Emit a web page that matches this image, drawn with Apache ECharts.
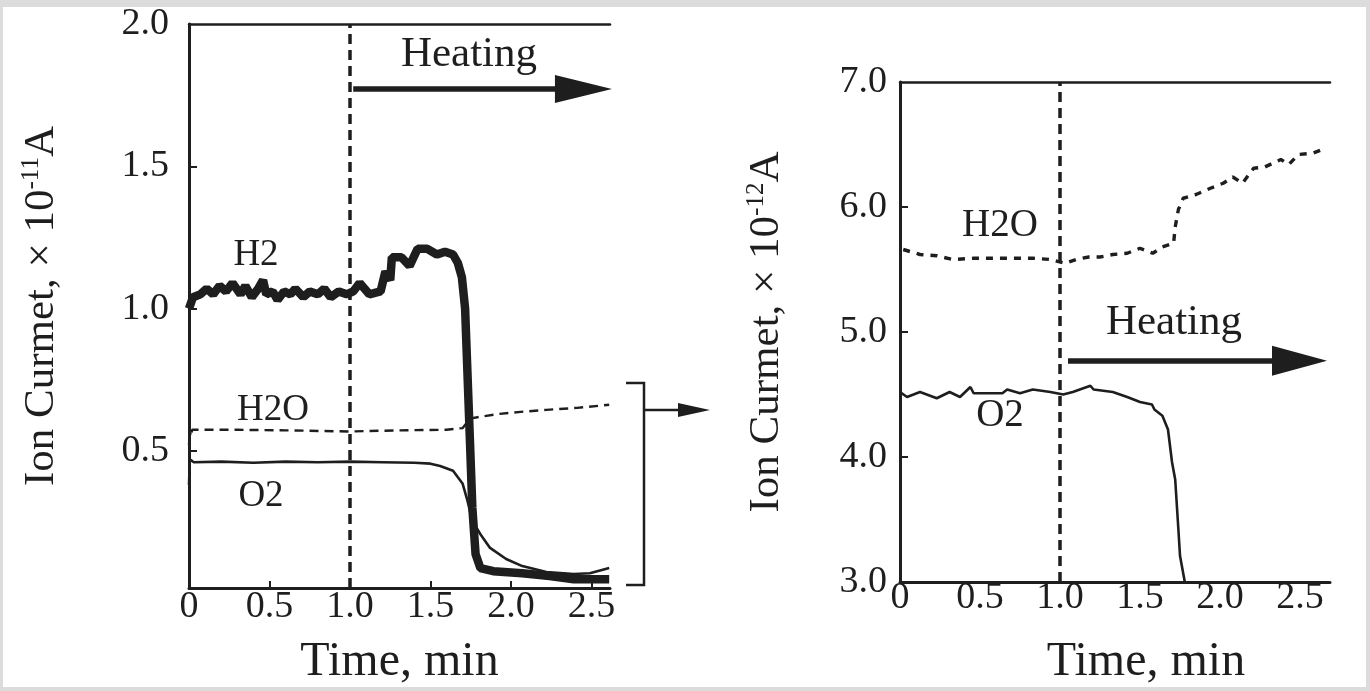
<!DOCTYPE html>
<html>
<head>
<meta charset="utf-8">
<title>Ion current during heating</title>
<script src="https://cdn.jsdelivr.net/npm/echarts@6.0.0/dist/echarts.min.js"></script>
<style>
  html, body { margin: 0; padding: 0; background: #dcdcdc; }
  #main { width: 1370px; height: 691px; }
</style>
</head>
<body>
<div id="main"></div>
<script>
// ---- left panel (x10^-11 A), time in min ----
var h2Time = [0, 0.025, 0.07, 0.11, 0.15, 0.19, 0.23, 0.27, 0.32, 0.35,
              0.39, 0.43, 0.46, 0.48, 0.52, 0.55, 0.59, 0.63, 0.66, 0.71,
              0.75, 0.80, 0.84, 0.88, 0.93, 0.98, 1.02, 1.06, 1.12, 1.19,
              1.22, 1.25, 1.26, 1.32, 1.37, 1.42, 1.48, 1.54, 1.59, 1.64,
              1.67, 1.695, 1.715, 1.745, 1.76, 1.78, 1.81, 1.89, 2.07, 2.24,
              2.39, 2.61];
var h2Left = [1.0, 1.04, 1.05, 1.07, 1.05, 1.08, 1.06, 1.09, 1.05, 1.08,
              1.04, 1.07, 1.1, 1.05, 1.06, 1.03, 1.06, 1.05, 1.07, 1.04,
              1.06, 1.05, 1.07, 1.04, 1.06, 1.05, 1.06, 1.09, 1.05, 1.06,
              1.13, 1.10, 1.18, 1.18, 1.15, 1.21, 1.21, 1.19, 1.20, 1.19,
              1.16, 1.11, 1.0, 0.535, 0.30, 0.137, 0.088, 0.077, 0.07, 0.06,
              0.049, 0.049];

var o2LeftTime = [0, 0.005, 0.03, 0.2, 0.4, 0.6, 0.8, 1.0, 1.2, 1.4, 1.5, 1.56,
                  1.64, 1.70, 1.73, 1.76, 1.81, 1.87, 1.97, 2.07, 2.22, 2.39, 2.49, 2.61];
var o2Left = [0.38, 0.47, 0.46, 0.462, 0.458, 0.462, 0.46, 0.462, 0.46, 0.458, 0.455, 0.447,
              0.43, 0.384, 0.324, 0.254, 0.207, 0.159, 0.12, 0.095, 0.074, 0.067, 0.07, 0.088];

var h2oLeftTime = [0, 0.005, 0.01, 0.02, 0.3, 0.6, 1.0, 1.3, 1.6, 1.70, 1.745, 1.81,
                   1.93, 2.06, 2.22, 2.41, 2.61];
var h2oLeft = [0.52, 0.58, 0.55, 0.574, 0.574, 0.572, 0.568, 0.572, 0.574, 0.58, 0.613, 0.62,
               0.63, 0.637, 0.644, 0.651, 0.662];

// ---- right panel (x10^-12 A) ----
var h2oRightTime = [0.02, 0.125, 0.23, 0.33, 0.46, 0.58, 0.71, 0.83, 0.94, 1.03,
                    1.10, 1.18, 1.25, 1.33, 1.42, 1.50, 1.58, 1.64, 1.71, 1.72,
                    1.74, 1.77, 1.85, 1.94, 2.02, 2.08, 2.14, 2.21, 2.28, 2.38,
                    2.43, 2.49, 2.58, 2.66];
var h2oRight = [5.66, 5.62, 5.61, 5.58, 5.59, 5.59, 5.59, 5.59, 5.58, 5.55,
                5.58, 5.60, 5.60, 5.62, 5.63, 5.67, 5.63, 5.68, 5.71, 5.84,
                5.98, 6.07, 6.10, 6.15, 6.19, 6.24, 6.19, 6.31, 6.32, 6.38,
                6.34, 6.42, 6.43, 6.47];

var o2RightTime = [0, 0.044, 0.125, 0.23, 0.31, 0.375, 0.44, 0.46, 0.64, 0.67,
                   0.75, 0.83, 0.94, 1.02, 1.08, 1.19, 1.21, 1.33, 1.42, 1.50,
                   1.575, 1.59, 1.64, 1.675, 1.70, 1.72, 1.74, 1.75, 1.78];
var o2Right = [4.52, 4.48, 4.52, 4.47, 4.52, 4.48, 4.56, 4.51, 4.51, 4.54,
               4.51, 4.54, 4.52, 4.50, 4.52, 4.57, 4.54, 4.52, 4.48, 4.44,
               4.42, 4.38, 4.33, 4.22, 3.96, 3.82, 3.42, 3.21, 3.0];

// tick labels
var timeTicks = [0, 0.5, 1.0, 1.5, 2.0, 2.5];
var leftYTicks = [0.5, 1.0, 1.5, 2.0];
var rightYTicks = [3, 4, 5, 6, 7];

function pairs(t, v) {
    return t.map(function (x, i) { return [x, v[i]]; });
}

var ink = '#1e1e1e';
var serif = '"Liberation Serif", "Times New Roman", serif';

function timeLabel(v) { return v === 0 ? '0' : v.toFixed(1); }

var chart = echarts.init(document.getElementById('main'));

var option = {
    animation: false,
    backgroundColor: '#dcdcdc',
    textStyle: { fontFamily: serif, color: ink },
    grid: [
        { left: 189, top: 24, width: 421, height: 564 },
        { left: 900, top: 82, width: 430, height: 501 }
    ],
    xAxis: [
        {
            gridIndex: 0, type: 'value', min: 0, max: 2.615,
            axisLine: { lineStyle: { color: ink, width: 3 } },
            axisTick: { inside: true, length: 7, customValues: [0.5, 1.5, 2.0, 2.5], lineStyle: { color: ink, width: 2 } },
            axisLabel: { customValues: timeTicks, formatter: timeLabel, fontSize: 38, fontFamily: serif, color: ink, margin: 0 },
            splitLine: { show: false },
            name: 'Time, min', nameLocation: 'middle', nameGap: 50,
            nameTextStyle: { fontSize: 48, fontFamily: serif, color: ink }
        },
        {
            gridIndex: 0, type: 'value', min: 0, max: 2.615, position: 'top',
            axisLine: { lineStyle: { color: ink, width: 2.5 } },
            axisTick: { show: false }, axisLabel: { show: false }, splitLine: { show: false }
        },
        {
            gridIndex: 1, type: 'value', min: 0, max: 2.6875,
            axisLine: { lineStyle: { color: ink, width: 3 } },
            axisTick: { show: false },
            axisLabel: { customValues: timeTicks, formatter: timeLabel, fontSize: 38, fontFamily: serif, color: ink, margin: -3 },
            splitLine: { show: false },
            name: 'Time, min', nameLocation: 'middle', nameGap: 56,
            nameTextStyle: { fontSize: 48, fontFamily: serif, color: ink, padding: [0, 0, 0, 62] }
        },
        {
            gridIndex: 1, type: 'value', min: 0, max: 2.6875, position: 'top',
            axisLine: { lineStyle: { color: ink, width: 2.5 } },
            axisTick: { show: false }, axisLabel: { show: false }, splitLine: { show: false }
        }
    ],
    yAxis: [
        {
            gridIndex: 0, type: 'value', min: 0.018, max: 2.0,
            axisLine: { lineStyle: { color: ink, width: 3 } },
            axisTick: { inside: true, length: 8, customValues: [0.5, 1.0, 1.5], lineStyle: { color: ink, width: 2 } },
            axisLabel: { customValues: leftYTicks, formatter: function (v) { return v.toFixed(1); },
                         fontSize: 38, fontFamily: serif, color: ink, margin: 20 },
            splitLine: { show: false },
            name: '{a|Ion Curmet, × 10}{s|-11}{a|A}', nameLocation: 'middle', nameGap: 124,
            nameTextStyle: {
                fontFamily: serif, color: ink, fontSize: 43,
                rich: {
                    a: { fontFamily: serif, color: ink, fontSize: 43, lineHeight: 46 },
                    s: { fontFamily: serif, color: ink, fontSize: 25, verticalAlign: 'top' }
                }
            }
        },
        {
            gridIndex: 1, type: 'value', min: 3, max: 7, interval: 1,
            axisLine: { lineStyle: { color: ink, width: 3 } },
            axisTick: { inside: true, length: 8, customValues: [4, 5, 6], lineStyle: { color: ink, width: 2 } },
            axisLabel: { customValues: rightYTicks, formatter: function (v) { return v.toFixed(1); },
                         fontSize: 38, fontFamily: serif, color: ink, margin: 13 },
            splitLine: { show: false },
            name: '{a|Ion Curmet, × 10}{s|-12}{a|A}', nameLocation: 'middle', nameGap: 110,
            nameTextStyle: {
                fontFamily: serif, color: ink, fontSize: 43,
                rich: {
                    a: { fontFamily: serif, color: ink, fontSize: 43, lineHeight: 46 },
                    s: { fontFamily: serif, color: ink, fontSize: 25, verticalAlign: 'top' }
                }
            }
        }
    ],
    series: [
        {
            name: 'H2O', type: 'line', xAxisIndex: 0, yAxisIndex: 0,
            data: pairs(h2oLeftTime, h2oLeft), showSymbol: false,
            lineStyle: { color: ink, width: 2.4, type: [9, 6] },
            // start of heating
            markLine: {
                silent: true, symbol: 'none', label: { show: false },
                lineStyle: { color: ink, width: 3.5, type: [10, 6] },
                data: [{ xAxis: 1.0 }]
            }
        },
        {
            name: 'O2', type: 'line', xAxisIndex: 0, yAxisIndex: 0,
            data: pairs(o2LeftTime, o2Left), showSymbol: false,
            lineStyle: { color: ink, width: 2.6 },
            // heating arrow
            markLine: {
                silent: true, symbol: ['none', 'triangle'], symbolSize: [28, 57], label: { show: false },
                lineStyle: { color: ink, width: 5.5, type: 'solid' },
                itemStyle: { color: ink },
                data: [[{ coord: [1.02, 1.772] }, { coord: [2.45, 1.772] }]]
            }
        },
        {
            name: 'H2', type: 'line', xAxisIndex: 0, yAxisIndex: 0,
            data: pairs(h2Time, h2Left), showSymbol: false,
            lineStyle: { color: ink, width: 8.5 }
        },
        {
            name: 'H2O ', type: 'line', xAxisIndex: 2, yAxisIndex: 1,
            data: pairs(h2oRightTime, h2oRight), showSymbol: false,
            lineStyle: { color: ink, width: 3.4, type: [7, 7] },
            markLine: {
                silent: true, symbol: 'none', label: { show: false },
                lineStyle: { color: ink, width: 3.5, type: [10, 6] },
                data: [{ xAxis: 1.0 }]
            }
        },
        {
            name: 'O2 ', type: 'line', xAxisIndex: 2, yAxisIndex: 1,
            data: pairs(o2RightTime, o2Right), showSymbol: false,
            lineStyle: { color: ink, width: 2.6 },
            markLine: {
                silent: true, symbol: ['none', 'triangle'], symbolSize: [30, 55], label: { show: false },
                lineStyle: { color: ink, width: 5.5, type: 'solid' },
                itemStyle: { color: ink },
                data: [[{ coord: [1.05, 4.77] }, { coord: [2.497, 4.77] }]]
            }
        }
    ],
    graphic: [
        { type: 'rect', z: -10, silent: true, shape: { x: 3, y: 7, width: 1363, height: 680 }, style: { fill: '#ffffff' } },
        { type: 'text', x: 469, y: 55, style: { text: 'Heating', font: '43px ' + serif, fill: ink, align: 'center', verticalAlign: 'middle' } },
        { type: 'text', x: 1174, y: 323, style: { text: 'Heating', font: '43px ' + serif, fill: ink, align: 'center', verticalAlign: 'middle' } },
        { type: 'text', x: 256, y: 255, style: { text: 'H2', font: '37px ' + serif, fill: ink, align: 'center', verticalAlign: 'middle' } },
        { type: 'text', x: 273, y: 410, style: { text: 'H2O', font: '37px ' + serif, fill: ink, align: 'center', verticalAlign: 'middle' } },
        { type: 'text', x: 261, y: 496, style: { text: 'O2', font: '37px ' + serif, fill: ink, align: 'center', verticalAlign: 'middle' } },
        { type: 'text', x: 1000, y: 226, style: { text: 'H2O', font: '39px ' + serif, fill: ink, align: 'center', verticalAlign: 'middle' } },
        { type: 'text', x: 1000, y: 416, style: { text: 'O2', font: '39px ' + serif, fill: ink, align: 'center', verticalAlign: 'middle' } },
        // bracket pointing to the enlarged panel
        { type: 'polyline', shape: { points: [[626, 383], [644, 383], [644, 585], [626, 585]] }, style: { stroke: ink, lineWidth: 2.5, fill: null } },
        { type: 'line', shape: { x1: 644, y1: 410, x2: 682, y2: 410 }, style: { stroke: ink, lineWidth: 2.5 } },
        { type: 'polygon', shape: { points: [[678, 403], [710, 410], [678, 417]] }, style: { fill: ink } }
    ]
};

chart.setOption(option);
</script>
</body>
</html>
